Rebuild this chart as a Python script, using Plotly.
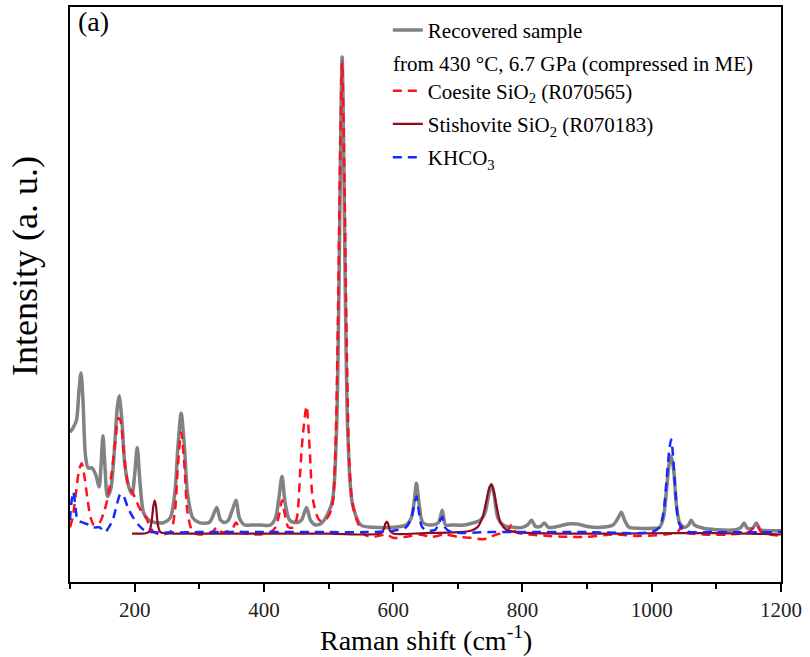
import plotly.graph_objects as go

# ---------------- data (wavenumber cm^-1, intensity a.u.) ----------------
rec_x = [100, 105, 110, 114, 117, 120, 124, 128, 134, 140, 145, 148, 151, 154, 158, 163, 168, 173, 176,
         180, 185, 191, 196, 200, 204, 208, 214, 222, 232, 245, 255, 262, 267, 272, 277, 282, 290, 300,
         315, 320, 327, 333, 340, 345, 352, 357, 362, 370, 380, 395, 410, 418, 423, 428, 433, 440, 450,
         458, 466, 472, 480, 490, 505, 512, 516, 519, 521, 523, 526, 530, 537, 550, 570, 600, 620, 628,
         633, 636, 640, 646, 660, 670, 676, 681, 690, 710, 725, 735, 742, 748, 752, 756, 762, 770, 785,
         800, 808, 814, 820, 828, 834, 840, 855, 870, 885, 900, 920, 940, 948, 953, 958, 965, 980, 1000,
         1012, 1018, 1023, 1027, 1030, 1034, 1038, 1043, 1050, 1057, 1061, 1066, 1080, 1100, 1130, 1138,
         1143, 1148, 1156, 1162, 1168, 1185, 1200]
rec_y = [21, 22, 23.5, 30, 33.5, 28, 16, 13.5, 13.5, 12, 9.5, 14, 20.3, 14, 7.5, 9, 16, 26, 28.7,
         24, 14, 9.5, 8, 12, 17.8, 11, 4, 2.5, 2, 2, 3, 8, 18, 25, 18, 8, 3, 2,
         2, 3, 5.2, 2.5, 2, 2.5, 5, 6.7, 3, 1.5, 1.5, 1.5, 1.5, 3, 7, 11.7, 6, 2.5, 2,
         2.5, 5.2, 2.5, 1.5, 2, 6, 20, 50, 85, 100, 85, 50, 20, 6, 1.5, 1, 1, 1.5, 3,
         7, 10.3, 6, 2, 1.5, 2, 4.6, 1.5, 1.5, 1.5, 2, 2.5, 4, 8, 10, 8, 3, 1.5, 1,
         1, 1.5, 2.5, 1.2, 1.2, 1.9, 1, 1.2, 1.7, 1.7, 1.2, 1, 1.5, 3, 4.2, 2.5, 1, 0.8, 0.8,
         1, 3, 9, 14.5, 16, 13, 6, 2, 1, 1.5, 2.5, 1.5, 0.8, 0.5, 0.5, 1,
         1.9, 0.8, 0.8, 1.9, 0.5, 0.3, 0.3]

coe_x = [100, 104, 109, 114, 118, 122, 127, 132, 137, 141, 146, 152, 158, 164, 170, 175, 178, 183, 190,
         198, 206, 212, 218, 224, 230, 240, 255, 262, 267, 272, 277, 282, 290, 300, 320, 327, 335, 350,
         357, 365, 390, 410, 418, 424, 428, 432, 438, 445, 451, 456, 460, 466, 471, 476, 486, 495, 505,
         510, 514, 518, 521, 524, 528, 532, 537, 545, 555, 570, 590, 600, 620, 640, 660, 680, 700, 720,
         740, 750, 760, 775, 783, 790, 810, 840, 870, 900, 940, 980, 1020, 1040, 1046, 1052, 1080, 1120,
         1150, 1162, 1170, 1200]
coe_y = [1, 3, 8, 13, 14.5, 12, 7, 3, 1.5, 1.5, 2, 4, 7, 12, 19, 24, 23.5, 17, 10,
         8, 5.5, 4, 3, 1, 0, -0.5, 0, 4, 14, 21, 14, 4, 0, -0.5, 0, 1, 0, 0.5,
         2, 0, -0.5, 0, 1, 4, 6.7, 4, 1, 1, 3, 12.4, 20, 26.5, 17, 6.7, 2.5, 2.5, 5,
         15, 40, 80, 99, 80, 40, 15, 6, 2, -0.5, -1, -0.5, -1.2, -1, -0.5, -1, -0.5, -1, -1.2,
         -1.5, -1, -0.5, 0, 1.5, 0, -0.5, -0.8, -1, -1, -0.5, -0.8, -0.5, 0, 1.2, 0, -0.5, -0.5,
         0, 1.5, 0, -0.8]

sti_x = [196, 215, 222, 226, 229, 231, 233, 236, 240, 260, 300, 400, 500, 580, 585, 588, 590, 592, 595,
         600, 650, 700, 720, 730, 738, 744, 749, 752, 755, 760, 766, 775, 790, 850, 950, 1050, 1150, 1200]
sti_y = [-0.3, -0.3, 0, 2, 5.5, 6.7, 5.5, 1.5, 0, -0.3, -0.3, -0.3, -0.3, -0.3, 0.5, 1.8, 2.2, 1.8, 0.3,
         -0.3, -0.2, 0, 0.3, 1, 3, 6.5, 9.5, 10, 9, 5.5, 2, 0.5, 0, -0.3, -0.3, -0.2, -0.3, -0.5]

khc_x = [100, 102, 105, 108, 112, 120, 130, 138, 146, 154, 160, 166, 172, 178, 183, 190, 198, 206, 214,
         225, 300, 400, 500, 560, 600, 620, 628, 633, 636, 639, 645, 655, 665, 671, 676, 680, 690, 750,
         800, 900, 1000, 1012, 1018, 1023, 1027, 1030, 1033, 1037, 1042, 1050, 1100, 1200]
khc_y = [2.5, 6, 8.5, 6, 2.5, 2, 1.5, 1, 1, 0, 1, 2.5, 5.5, 8, 7.5, 5, 3, 1.5, 0.5,
         0, 0, 0, 0, 0, 0.3, 1, 3, 6, 7.5, 5, 1, 0.3, 0.5, 2, 3.2, 1, 0, 0,
         0, 0, 0, 1, 4, 11, 17, 19.5, 16, 8, 2, 0.3, 0, 0]

names = ["Recovered sample<br> ",
         "Coesite SiO<sub>2</sub> (R070565)",
         "Stishovite SiO<sub>2</sub> (R070183)",
         "KHCO<sub>3</sub>"]
x_ticks = [200, 400, 600, 800, 1000, 1200]

FONT = "Liberation Serif"

fig = go.Figure()
fig.add_trace(go.Scatter(x=rec_x, y=rec_y, mode="lines", name=names[0], legendgroup="a",
                         line=dict(color="#828282", width=3.5, shape="spline", smoothing=0.8)))
fig.add_trace(go.Scatter(x=coe_x, y=coe_y, mode="lines", name=names[1], legendgroup="b",
                         line=dict(color="#ff1020", width=2.5, dash="9px,6px", shape="spline", smoothing=0.8)))
fig.add_trace(go.Scatter(x=sti_x, y=sti_y, mode="lines", name=names[2], legendgroup="c",
                         line=dict(color="#8e0a1e", width=2.2, shape="spline", smoothing=0.8)))
fig.add_trace(go.Scatter(x=khc_x, y=khc_y, mode="lines", name=names[3], legendgroup="d",
                         line=dict(color="#1428ff", width=2.5, dash="9px,6px", shape="spline", smoothing=0.8)))

fig.update_layout(
    width=810, height=657,
    margin=dict(l=70, r=29, t=5, b=75),
    paper_bgcolor="white", plot_bgcolor="white",
    font=dict(family=FONT, color="black"),
    legend=dict(x=0.447, y=0.995, xanchor="left", yanchor="top", bgcolor="rgba(0,0,0,0)",
                font=dict(family=FONT, size=21, color="black"), valign="top",
                tracegroupgap=3, itemwidth=30),
    xaxis=dict(range=[100, 1200], tickvals=x_ticks, ticks="outside", ticklen=8, tickwidth=1.5,
               tickcolor="black", showline=True, linecolor="black", linewidth=1.5, mirror=True,
               showgrid=False, zeroline=False, tickfont=dict(family=FONT, size=21, color="#222"),
               minor=dict(tickvals=[100, 300, 500, 700, 900, 1100], ticks="outside", ticklen=5,
                          tickwidth=1.5, tickcolor="black")),
    yaxis=dict(range=[-10.5, 110.5], showticklabels=False, ticks="", showline=True,
               linecolor="black", linewidth=1.5, mirror=True, showgrid=False, zeroline=False),
    annotations=[
        dict(text="(a)", xref="paper", yref="paper", x=0.008, y=0.975, xanchor="left",
             yanchor="middle", showarrow=False, font=dict(family=FONT, size=28)),
        dict(text="from 430 °C, 6.7 GPa (compressed in ME)", xref="paper", yref="paper",
             x=0.452, y=0.901, xanchor="left", yanchor="middle", showarrow=False,
             font=dict(family=FONT, size=21)),
        dict(text="Intensity (a. u.)", xref="paper", yref="paper", x=-0.063, y=0.55,
             xanchor="center", yanchor="middle", textangle=-90, showarrow=False,
             font=dict(family=FONT, size=36)),
        dict(text="Raman shift (cm<sup>-1</sup>)", xref="paper", yref="paper", x=0.5, y=-0.099,
             xanchor="center", yanchor="middle", showarrow=False, font=dict(family=FONT, size=28)),
    ],
)

fig.write_html("out.html")
